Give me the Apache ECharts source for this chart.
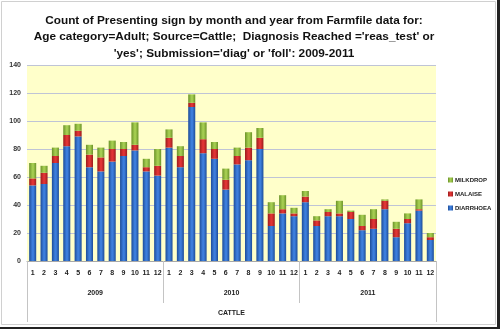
<!DOCTYPE html>
<html><head><meta charset="utf-8">
<script src="https://cdn.jsdelivr.net/npm/echarts@6/dist/echarts.min.js"></script>
<style>html,body{margin:0;padding:0;background:#fff}#c{width:500px;height:329px}</style>
</head><body><div id="c"></div>
<script>
const months = ['1','2','3','4','5','6','7','8','9','10','11','12','1','2','3','4','5','6','7','8','9','10','11','12','1','2','3','4','5','6','7','8','9','10','11','12'];
const years = ['2009','2010','2011'];
const species = ['CATTLE'];
const diarrhoea = [54,55,70,82,89,67,64,71,75,79,64,61, 81,67,110,77,73,51,69,72,80,25,34,32, 42,25,32,32,30,22,23,37,17,27,36,15];
const malaise   = [5,8,5,8,4,9,10,9,5,4,3,7, 7,8,3,10,7,7,6,9,8,9,3,2, 4,4,3,2,5,3,7,6,6,3,1,2];
const milkdrop  = [11,5,6,7,5,7,7,6,5,16,6,12, 6,7,6,12,5,8,6,11,7,8,10,4, 4,3,2,9,1,8,7,1,5,4,7,3];
const yTicks = {min:0, max:140, interval:20};

const FONT = 'Liberation Sans';
function grad(edge, mid){
  return new echarts.graphic.LinearGradient(0,0,1,0,[
    {offset:0,color:edge},{offset:0.45,color:mid},{offset:0.6,color:mid},{offset:1,color:edge}]);
}
const chart = echarts.init(document.getElementById('c'), null, {renderer:'canvas'});
const gridTop=65, gridLeft=27, gridRight=64, gridBottom=68;
chart.setOption({
  animation:false,
  backgroundColor:'#fff',
  title:{
    text:"Count of Presenting sign by month and year from Farmfile data for:\nAge category=Adult; Source=Cattle;  Diagnosis Reached ='reas_test' or\n'yes'; Submission='diag' or 'foll': 2009-2011",
    left:229, top:7, textAlign:'center',
    textStyle:{fontFamily:FONT, fontWeight:'bold', fontSize:11.8, lineHeight:16.5, color:'#111'}
  },
  legend:{
    orient:'vertical', left:443, top:172, itemWidth:5, itemHeight:5, itemGap:8,
    icon:'rect',
    data:['MILKDROP','MALAISE','DIARRHOEA'],
    textStyle:{fontFamily:FONT, fontSize:6, fontWeight:'bold', color:'#222', padding:[0,0,0,-3]}
  },
  grid:{left:gridLeft, right:gridRight, top:gridTop, bottom:gridBottom, show:true, backgroundColor:'#FFFFCA', borderWidth:0, containLabel:false},
  xAxis:[
    {type:'category', data:months, position:'bottom', axisLine:{lineStyle:{color:'#A8A8A8'}}, axisTick:{show:false},
     axisLabel:{interval:0, fontFamily:FONT, fontSize:7, fontWeight:'bold', color:'#222', margin:9}},
    {type:'category', data:years, position:'bottom', axisLine:{show:false},
     axisTick:{show:true, interval:0, length:42, lineStyle:{color:'#C4C4C4'}},
     axisLabel:{interval:0, fontFamily:FONT, fontSize:7, fontWeight:'bold', color:'#222', margin:29}},
    {type:'category', data:species, position:'bottom', axisLine:{show:false},
     axisTick:{show:true, interval:0, length:61, lineStyle:{color:'#C4C4C4'}},
     axisLabel:{interval:0, fontFamily:FONT, fontSize:7, fontWeight:'bold', color:'#222', margin:49}}
  ],
  yAxis:{type:'value', min:yTicks.min, max:yTicks.max, interval:yTicks.interval,
    axisLine:{show:false}, axisTick:{show:false},
    splitLine:{lineStyle:{color:'#BFC4D6', width:1}},
    axisLabel:{fontFamily:FONT, fontSize:7, fontWeight:'bold', color:'#333', margin:6}},
  series:[
    {name:'DIARRHOEA', type:'bar', stack:'s', data:diarrhoea, barCategoryGap:'38%',
     itemStyle:{color:grad('#1D4C98','#3D7EDC')}},
    {name:'MALAISE', type:'bar', stack:'s', data:malaise,
     itemStyle:{color:grad('#9A1C1C','#E03434')}},
    {name:'MILKDROP', type:'bar', stack:'s', data:milkdrop,
     itemStyle:{color:grad('#6A9228','#A4CC50')}}
  ],
  graphic:[
    {type:'rect', shape:{x:1.5,y:1.5,width:494,height:323}, style:{fill:null, stroke:'#D0D0D0', lineWidth:1}, z:-1},
    {type:'rect', shape:{x:0,y:327,width:500,height:2}, style:{fill:'#222'}},
    {type:'rect', shape:{x:497,y:0,width:3,height:329}, style:{fill:'#222'}}
  ]
});
</script></body></html>
